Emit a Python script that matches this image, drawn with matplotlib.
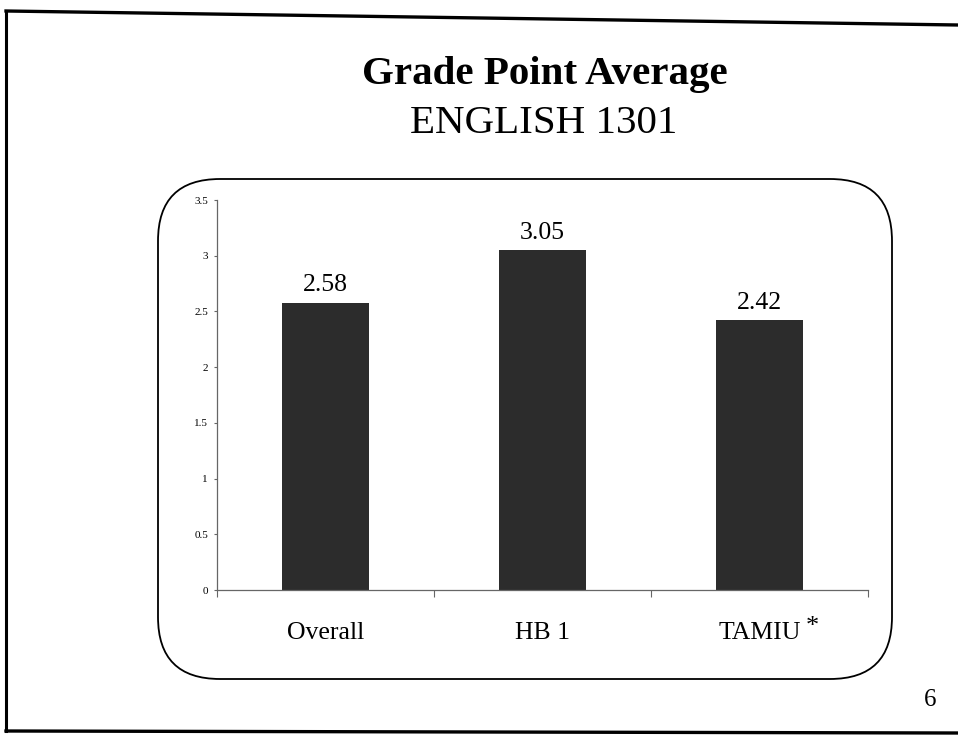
import matplotlib
matplotlib.use("Agg")
import matplotlib.pyplot as plt
from matplotlib.patches import FancyBboxPatch
from matplotlib.lines import Line2D

# ---- data ----
categories = ["Overall", "HB 1", "TAMIU"]
gpa = [2.58, 3.05, 2.42]
value_labels = ["2.58", "3.05", "2.42"]
yticks = [0, 0.5, 1, 1.5, 2, 2.5, 3, 3.5]
ytick_labels = ["0", "0.5", "1", "1.5", "2", "2.5", "3", "3.5"]
title_main = "Grade Point Average"
title_sub = "ENGLISH 1301"
page_number = "6"
footnote_mark = "*"

W, H = 958, 736
SERIF = ["Liberation Serif", "DejaVu Serif"]

fig = plt.figure(figsize=(W / 100, H / 100), dpi=100)
fig.patch.set_facecolor("white")

# overlay in pixel coordinates (y downward)
bg = fig.add_axes([0, 0, 1, 1], zorder=0)
bg.set_xlim(0, W)
bg.set_ylim(H, 0)
bg.axis("off")

# outer slide border (left, top, bottom)
bg.add_line(Line2D([6, 958], [11, 25], color="black", lw=2.4))
bg.add_line(Line2D([6, 6], [11, 731], color="black", lw=2.2))
bg.add_line(Line2D([6, 958], [731, 733], color="black", lw=2.4))

# rounded chart frame
frame = FancyBboxPatch((158, 179), 734, 500,
                       boxstyle="round,pad=0,rounding_size=62",
                       fc="none", ec="black", lw=1.3)
bg.add_patch(frame)

# titles
bg.text(545, 84, title_main, ha="center", va="baseline",
        fontsize=29.5, fontweight="bold", family=SERIF)
bg.text(544, 133, title_sub, ha="center", va="baseline",
        fontsize=29.5, family=SERIF)
bg.text(930, 706, page_number, ha="center", va="baseline",
        fontsize=18, family=SERIF)

# chart
ax = fig.add_axes([217 / W, 1 - 590 / H, (868 - 217) / W, (590 - 200) / H], zorder=1)
ax.set_facecolor("none")
x = list(range(len(categories)))
ax.bar(x, gpa, width=0.405, color="#2c2c2c", edgecolor="none")
ax.set_xlim(-0.5, len(categories) - 0.5)
ax.set_ylim(0, 3.5)

for xi, v, lab in zip(x, gpa, value_labels):
    ax.annotate(lab, xy=(xi, v), xytext=(0, 8), textcoords="offset points",
                ha="center", va="baseline", fontsize=18.5, family=SERIF)

for s in ["top", "right"]:
    ax.spines[s].set_visible(False)
for s in ["left", "bottom"]:
    ax.spines[s].set_color("#666666")
    ax.spines[s].set_linewidth(0.9)

ax.set_yticks(yticks)
ax.set_yticklabels(ytick_labels, family=SERIF, fontsize=8)
ax.tick_params(axis="y", direction="out", length=2.5, width=0.8, color="#666666", pad=4)

ax.set_xticks(x)
ax.set_xticklabels(categories, family=SERIF, fontsize=18.5)
ax.set_xticks([i - 0.5 for i in range(len(categories) + 1)], minor=True)
ax.tick_params(axis="x", which="major", length=0, pad=23)
ax.tick_params(axis="x", which="minor", direction="out", length=5, width=0.8, color="#666666")

# footnote asterisk next to last category label (raised, like a superscript)
ax.annotate(footnote_mark, xy=(x[-1], 0), xycoords="data", xytext=(38, -31),
            textcoords="offset points", ha="center", va="baseline",
            fontsize=19, family=SERIF)

fig.savefig("out.png", dpi=100)
